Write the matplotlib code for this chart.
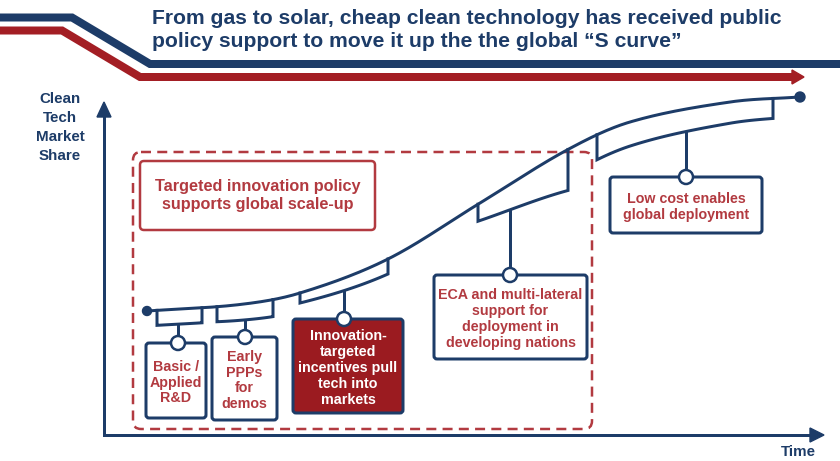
import numpy as np
import matplotlib.pyplot as plt
from matplotlib.patches import FancyBboxPatch, Circle, Polygon

plt.rcParams['font.family'] = ['Liberation Sans', 'DejaVu Sans']

NAVY = '#1D3C68'
RED = '#A31E24'
TEXT_RED = '#B23A40'
PX = 0.72  # pixels -> points at dpi 100

title = ('From gas to solar, cheap clean technology has received public\n'
         'policy support to move it up the the global \u201cS curve\u201d')
y_label = 'Clean\nTech\nMarket\nShare'
x_label = 'Time'
scope_label = 'Targeted innovation policy\nsupports global scale-up'

# S curve (pixel coordinates)
curve_x = [147, 240, 300, 388, 480, 567, 630, 730, 800]
curve_y = [311, 304.5, 293, 259, 203, 150, 122, 102, 97]

# policy stages hanging below the curve
stage_labels = ['Basic /\nApplied\nR&D',
                'Early\nPPPs\nfor\ndemos',
                'Innovation-\ntargeted\nincentives pull\ntech into\nmarkets',
                'ECA and multi-lateral\nsupport for\ndeployment in\ndeveloping nations',
                'Low cost enables\nglobal deployment']
bracket_x0 = [157, 217, 300, 478, 597]
bracket_x1 = [202, 273, 388, 568, 773]
bracket_depth0 = [15, 15, 10, 17, 25]
bracket_depth1 = [15, 17, 15, 41, 20]
stem_x = [178, 245, 344, 510, 686]
box_left = [146, 212, 293, 434, 610]
box_right = [206, 277, 403, 587, 762]
box_top = [343, 337, 319, 275, 177]
box_bottom = [418, 420, 413, 359, 233]
box_filled = [False, False, True, False, False]


def smooth(xs, ys, n=40):
    # cubic Hermite through the read points, slopes from neighbours
    x = np.asarray(xs, float)
    y = np.asarray(ys, float)
    m = np.empty_like(y)
    m[1:-1] = (y[2:] - y[:-2]) / (x[2:] - x[:-2])
    m[0] = (y[1] - y[0]) / (x[1] - x[0])
    m[-1] = (y[-1] - y[-2]) / (x[-1] - x[-2])
    ox, oy = [], []
    for i in range(len(x) - 1):
        h = x[i + 1] - x[i]
        t = np.linspace(0, 1, n, endpoint=False)
        h00 = 2 * t ** 3 - 3 * t ** 2 + 1
        h10 = t ** 3 - 2 * t ** 2 + t
        h01 = -2 * t ** 3 + 3 * t ** 2
        h11 = t ** 3 - t ** 2
        ox.append(x[i] + t * h)
        oy.append(h00 * y[i] + h10 * h * m[i] + h01 * y[i + 1] + h11 * h * m[i + 1])
    ox.append([x[-1]])
    oy.append([y[-1]])
    return np.concatenate(ox), np.concatenate(oy)


fig = plt.figure(figsize=(8.4, 4.61), dpi=100)
ax = fig.add_axes([0, 0, 1, 1])
ax.set_xlim(0, 840)
ax.set_ylim(461, 0)
ax.axis('off')

# banner stripes
band = 8 * PX
ax.plot([0, 72, 150, 840], [17.5, 17.5, 64, 64], color=NAVY, lw=band,
        solid_joinstyle='miter', solid_capstyle='butt')
ax.plot([0, 62, 140, 793], [30.5, 30.5, 77, 77], color=RED, lw=band,
        solid_joinstyle='miter', solid_capstyle='butt')
ax.add_patch(Polygon([[792, 70], [804, 77], [792, 84]], closed=True, color=RED))

ax.text(152, 30, title, color=NAVY, fontsize=15.2, fontweight='bold',
        ha='left', va='center', linespacing=1.32)

# axes arrows
ax.plot([104, 104, 812], [115, 435, 435], color=NAVY, lw=3 * PX, solid_joinstyle='miter')
ax.add_patch(Polygon([[97, 117], [104, 102], [111, 117]], closed=True, color=NAVY))
ax.add_patch(Polygon([[810, 428], [824, 435], [810, 442]], closed=True, color=NAVY))
ax.text(60, 127.5, y_label, color=NAVY, fontsize=10.9, fontweight='bold',
        ha='center', va='center', linespacing=1.48)
ax.text(798, 452, x_label, color=NAVY, fontsize=10.9, fontweight='bold',
        ha='center', va='center')

# dashed scope box and its label
ax.add_patch(FancyBboxPatch((133, 152), 459, 277, boxstyle='round,pad=0,rounding_size=8',
                            fill=False, ec=TEXT_RED, lw=2.5 * PX, ls=(0, (4, 2.5))))
ax.add_patch(FancyBboxPatch((140, 161), 235, 69, boxstyle='round,pad=0,rounding_size=4',
                            fill=False, ec=TEXT_RED, lw=2.5 * PX))
ax.text(257.5, 195.5, scope_label, color=TEXT_RED, fontsize=11.7, fontweight='bold',
        ha='center', va='center', linespacing=1.25)

# S curve
sx, sy = smooth(curve_x, curve_y)
ax.plot(sx, sy, color=NAVY, lw=3 * PX, solid_capstyle='round', zorder=4)
ax.add_patch(Circle((curve_x[0], curve_y[0]), 4.5, color=NAVY, zorder=5))
ax.add_patch(Circle((curve_x[-1], curve_y[-1]), 5, color=NAVY, zorder=5))

# stages
for i, label in enumerate(stage_labels):
    x0, x1 = bracket_x0[i], bracket_x1[i]
    bx = np.linspace(x0, x1, 40)
    top = np.interp(bx, sx, sy)
    low = top + np.linspace(bracket_depth0[i], bracket_depth1[i], 40)
    ax.plot(np.r_[x0, bx, x1], np.r_[top[0], low, top[-1]], color=NAVY, lw=3 * PX,
            solid_joinstyle='miter', zorder=4)
    stem_top = np.interp(stem_x[i], bx, low)
    ax.plot([stem_x[i], stem_x[i]], [stem_top, box_top[i]], color=NAVY, lw=3 * PX, zorder=4)

    w = box_right[i] - box_left[i]
    h = box_bottom[i] - box_top[i]
    fc = '#9B1B20' if box_filled[i] else 'white'
    ax.add_patch(FancyBboxPatch((box_left[i], box_top[i]), w, h,
                                boxstyle='round,pad=0,rounding_size=3',
                                fc=fc, ec=NAVY, lw=3 * PX, zorder=5))
    ax.add_patch(Circle((stem_x[i], box_top[i]), 7, fc='white', ec=NAVY,
                        lw=2.5 * PX, zorder=6))
    tc = 'white' if box_filled[i] else TEXT_RED
    ax.text((box_left[i] + box_right[i]) / 2, (box_top[i] + box_bottom[i]) / 2 + 2, label,
            color=tc, fontsize=10.3, fontweight='bold', ha='center', va='center',
            linespacing=1.18, zorder=7)

fig.savefig('out.png', dpi=100)
